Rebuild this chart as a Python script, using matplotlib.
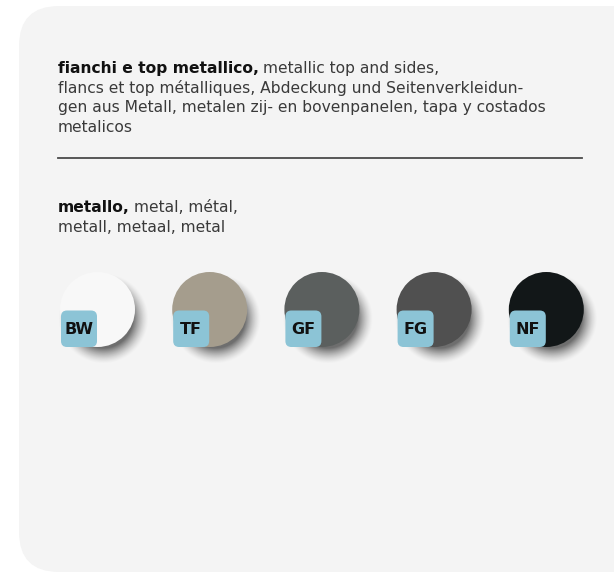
import numpy as np
import matplotlib.pyplot as plt
from matplotlib.patches import FancyBboxPatch, Circle

# swatch data
codes = ['BW', 'TF', 'GF', 'FG', 'NF']
colors = ['#f8f8f8', '#a59d8d', '#5b5f5e', '#505050', '#121718']

title1_bold = 'fianchi e top metallico,'
title1_rest = ['metallic top and sides,',
               'flancs et top métalliques, Abdeckung und Seitenverkleidun-',
               'gen aus Metall, metalen zij- en bovenpanelen, tapa y costados',
               'metalicos']
title2_bold = 'metallo,'
title2_rest = ['metal, métal,', 'metall, metaal, metal']

W, H = 614, 573
fig = plt.figure(figsize=(W / 100, H / 100), dpi=100)
ax = fig.add_axes([0, 0, 1, 1])
ax.set_xlim(0, W)
ax.set_ylim(H, 0)
ax.axis('off')

# panel
ax.add_patch(FancyBboxPatch((19, 6), 640, 566, boxstyle='round,pad=0,rounding_size=40',
                            fc='#f4f4f4', ec='none'))

font = 'DejaVu Sans'
fs = 11.2


def text_block(x, y0, bold, rest, dy=19.6):
    fig.canvas.draw()
    t = ax.text(x, y0, bold, fontsize=fs, fontweight='bold', color='#111111',
                family=font, va='baseline')
    bb = t.get_window_extent(fig.canvas.get_renderer())
    inv = ax.transData.inverted()
    x2 = inv.transform((bb.x1, bb.y0))[0] + 4
    ax.text(x2, y0, rest[0], fontsize=fs, color='#3a3a3a', family=font, va='baseline')
    for i, line in enumerate(rest[1:]):
        ax.text(x, y0 + dy * (i + 1), line, fontsize=fs, color='#3a3a3a',
                family=font, va='baseline')


text_block(58, 73, title1_bold, title1_rest)
ax.plot([58, 582], [158, 158], color='#4a4a4a', lw=1.3)
text_block(58, 212, title2_bold, title2_rest)

# swatches
cx0, step, cy, r = 97.5, 112.2, 309.5, 37.5
xs = cx0 + step * np.arange(len(codes))

# soft drop shadows
gx, gy = np.meshgrid(np.arange(W) + 0.5, np.arange(H) + 0.5)
alpha = np.zeros((H, W))
for x in xs:
    d = np.hypot(gx - (x + 6), gy - (cy + 9))
    alpha = np.maximum(alpha, np.clip((r + 8 - d) / 16, 0, 1) ** 1.5 * 0.55)
shadow = np.zeros((H, W, 4))
shadow[..., 3] = alpha
ax.imshow(shadow, extent=(0, W, H, 0), zorder=1)
ax.set_xlim(0, W)
ax.set_ylim(H, 0)

for x, c, code in zip(xs, colors, codes):
    ax.add_patch(Circle((x, cy), r, fc=c, ec='none', zorder=2))
    ax.add_patch(FancyBboxPatch((x - 36.5, cy + 1), 36, 36.5,
                                boxstyle='round,pad=0,rounding_size=6',
                                fc='#8cc4d6', ec='none', zorder=3))
    ax.text(x - 18.5, cy + 19.5, code, fontsize=11.5, fontweight='bold', color='#111111',
            family=font, ha='center', va='center', zorder=4)

fig.savefig('out.png', dpi=100, facecolor='white')
